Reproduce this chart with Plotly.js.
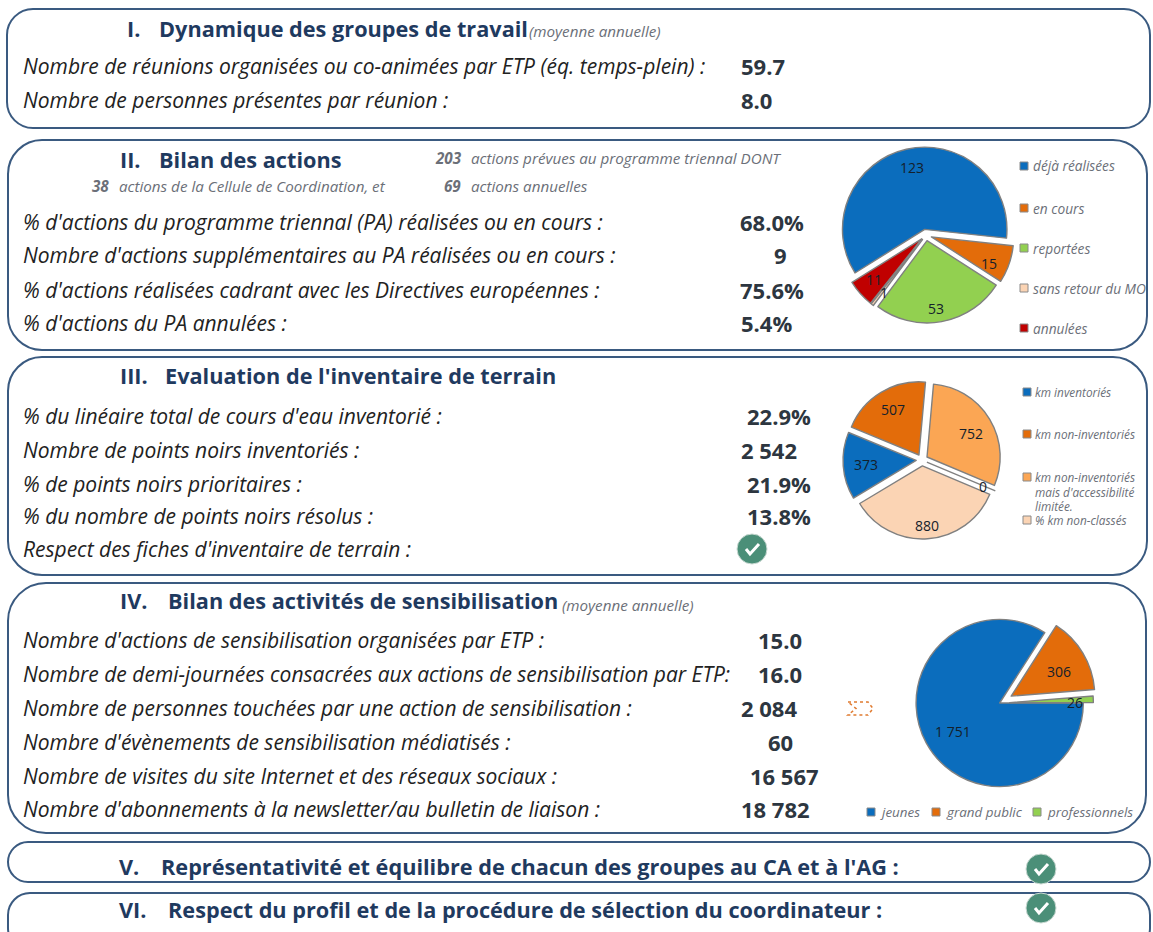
<!DOCTYPE html>
<html><head><meta charset="utf-8">
<script src="https://cdn.plot.ly/plotly-3.0.1.min.js"></script>
<style>html,body{margin:0;padding:0;background:#fff;overflow:hidden}#g{width:1153px;height:932px}</style>
</head><body><div id="g"></div>
<script>
// ---- data ----
const pie1Labels = ["déjà réalisées","en cours","reportées","sans retour du MO","annulées"];
const pie1Values = [123,15,53,1,11];
const pie2Labels = ["km inventoriés","km non-inventoriés","km non-inventoriés mais d'accessibilité limitée.","% km non-classés","km non-classés"];
const pie2Values = [373,507,752,0,880];
const pie3Labels = ["jeunes","grand public","professionnels"];
const pie3Values = [1751,306,26];
const sec1Rows = ["Nombre de réunions organisées ou co-animées par ETP (éq. temps-plein) :","Nombre de personnes présentes par réunion :"];
const sec1Vals = ["59.7","8.0"];
const sec2Rows = ["% d'actions du programme triennal (PA) réalisées ou en cours :","Nombre d'actions supplémentaires au PA réalisées ou en cours :","% d'actions réalisées cadrant avec les Directives européennes :","% d'actions du PA annulées :"];
const sec2Vals = ["68.0%","9","75.6%","5.4%"];
const sec3Rows = ["% du linéaire total de cours d'eau inventorié :","Nombre de points noirs inventoriés :","% de points noirs prioritaires :","% du nombre de points noirs résolus :","Respect des fiches d'inventaire de terrain :"];
const sec3Vals = ["22.9%","2 542","21.9%","13.8%"];
const sec4Rows = ["Nombre d'actions de sensibilisation organisées par ETP :","Nombre de demi-journées consacrées aux actions de sensibilisation par ETP:","Nombre de personnes touchées par une action de sensibilisation :","Nombre d'évènements de sensibilisation médiatisés :","Nombre de visites du site Internet et des réseaux sociaux :","Nombre d'abonnements à la newsletter/au bulletin de liaison :"];
const sec4Vals = ["15.0","16.0","2 084","60","16 567","18 782"];

// ---- layout helpers (pixel -> paper) ----
const W=1153,H=932;
const px=x=>x/W, py=y=>1-y/H;
const FONT="'Open Sans', Lato, sans-serif";
const NAVY="#1f3a5f", INK="#222222", EDGE="#3a5a80", GREY="#6b6f78";
const RS=21, HS=21.7, VS=22, NS=15.2;
const ann=[], shp=[];
function txt(x,y,t,o={}){ann.push({xref:"paper",yref:"paper",x:px(x),y:py(y),text:t,showarrow:false,
  xanchor:o.a||"left",yanchor:"middle",borderpad:0,
  font:{family:FONT,size:o.s||18,color:o.c||INK,weight:o.b?700:400,style:o.i?"italic":"normal"}});}
function box(x0,y0,x1,y1,r){const k=r*0.45,X=px,Y=py;
  const d=`M${X(x0+r)},${Y(y0)} L${X(x1-r)},${Y(y0)} C${X(x1-k)},${Y(y0)} ${X(x1)},${Y(y0+k)} ${X(x1)},${Y(y0+r)} `+
  `L${X(x1)},${Y(y1-r)} C${X(x1)},${Y(y1-k)} ${X(x1-k)},${Y(y1)} ${X(x1-r)},${Y(y1)} `+
  `L${X(x0+r)},${Y(y1)} C${X(x0+k)},${Y(y1)} ${X(x0)},${Y(y1-k)} ${X(x0)},${Y(y1-r)} `+
  `L${X(x0)},${Y(y0+r)} C${X(x0)},${Y(y0+k)} ${X(x0+k)},${Y(y0)} ${X(x0+r)},${Y(y0)} Z`;
  shp.push({type:"path",xref:"paper",yref:"paper",path:d,line:{color:EDGE,width:2},layer:"below"});}
function check(cx,cy){
  shp.push({type:"circle",xref:"paper",yref:"paper",x0:px(cx-15),x1:px(cx+15),y0:py(cy+15),y1:py(cy-15),fillcolor:"#4b8f78",line:{color:"#c9d9d2",width:1}});
  shp.push({type:"path",xref:"paper",yref:"paper",path:`M${px(cx-6)},${py(cy)} L${px(cx-2)},${py(cy+5)} L${px(cx+7)},${py(cy-5)}`,line:{color:"#fff",width:3}});
}
function sq(x,y,c){const s=4;shp.push({type:"rect",xref:"paper",yref:"paper",x0:px(x-s),x1:px(x+s),y0:py(y+s),y1:py(y-s),fillcolor:c,line:{color:"#8a8a8a",width:1}});}
function rows(list,ys,x,s){list.forEach((t,i)=>txt(x,ys[i],t,{i:true,s:s}));}
function vals(list,xs,ys,s){list.forEach((t,i)=>txt(xs[i],ys[i],t,{b:true,a:"center",s:s||VS,c:"#2d3640"}));}

// ---- frames ----
box(7,9,1150,128,26); box(8,140,1147,350,34); box(8,357,1147,575,34); box(8,583,1146,833,38);
box(8,842,1150,882,20); box(8,893,1150,950,22);

// ---- section I ----
txt(126,28,"I.",{b:1,s:HS,c:NAVY}); txt(158,28,"Dynamique des groupes de travail",{b:1,s:HS,c:NAVY});
txt(528,31,"(moyenne annuelle)",{i:1,s:NS,c:GREY});
const y1=[66,100]; rows(sec1Rows,y1,22,RS); vals(sec1Vals,[763,756],y1);
// ---- section II ----
txt(119,159,"II.",{b:1,s:HS,c:NAVY}); txt(158,159,"Bilan des actions",{b:1,s:HS,c:NAVY});
txt(434,158,"203",{b:1,i:1,s:NS,c:GREY}); txt(470,158,"actions prévues au programme triennal DONT",{i:1,s:NS,c:GREY});
txt(91,186,"38",{b:1,i:1,s:NS,c:GREY}); txt(118,186,"actions de la Cellule de Coordination, et",{i:1,s:NS,c:GREY});
txt(443,186,"69",{b:1,i:1,s:NS,c:GREY}); txt(470,186,"actions annuelles",{i:1,s:NS,c:GREY});
const y2=[222,255,290,323]; rows(sec2Rows,y2,22,RS); vals(sec2Vals,[772,780,772,766],y2);
// ---- section III ----
txt(119,375,"III.",{b:1,s:HS,c:NAVY}); txt(164,375,"Evaluation de l'inventaire de terrain",{b:1,s:HS,c:NAVY});
const y3=[416,450,484,516,549]; rows(sec3Rows,y3,22,RS); vals(sec3Vals,[779,769,779,779],y3);
check(752,549);
// ---- section IV ----
txt(119,600,"IV.",{b:1,s:HS,c:NAVY}); txt(167,600,"Bilan des activités de sensibilisation",{b:1,s:HS,c:NAVY});
txt(561,605,"(moyenne annuelle)",{i:1,s:NS,c:GREY});
const y4=[640,674,708,742,776,809]; rows(sec4Rows,y4,22,RS); vals(sec4Vals,[780,780,769,780,784,775],y4);
shp.push({type:"path",xref:"paper",yref:"paper",line:{color:"#e07b30",width:1.5,dash:"dot"},
  path:`M${px(848)},${py(702)} L${px(868)},${py(702)} L${px(873)},${py(708.5)} L${px(868)},${py(715)} L${px(848)},${py(715)} L${px(856)},${py(708.5)} Z`});
// ---- sections V / VI ----
txt(118,866,"V.",{b:1,s:HS,c:NAVY}); txt(160,866,"Représentativité et équilibre de chacun des groupes au CA et à l'AG :",{b:1,s:HS,c:NAVY});
txt(118,909,"VI.",{b:1,s:HS,c:NAVY}); txt(167,909,"Respect du profil et de la procédure de sélection du coordinateur :",{b:1,s:HS,c:NAVY});
check(1041,869); check(1041,908);

// ---- pie value labels ----
const C1=["#0b6dbd","#e36c0a","#92d050","#fbd4b4","#c00000"];
const C2=["#0b6dbd","#e36c0a","#fba654","#ffffff","#fbd4b4"];
const C3=["#0b6dbd","#e36c0a","#92d050"];
const fmt=v=>String(v).replace(/\B(?=(\d{3})+$)/g," ");
const L1=[[912,168],[989,264],[936,308],[884,292],[874,279]];
const L2=[[866,465],[893,409],[971,433],[983,487],[927,525]];
const L3=[[953,731],[1059,671],[1075,702]];
[[pie1Values,L1],[pie2Values,L2],[pie3Values,L3]].forEach(([v,l])=>v.forEach((n,i)=>txt(l[i][0],l[i][1],fmt(n),{a:"center",s:14,c:"#14202b"})));

// ---- pie legends ----
const LY1=[166,208,248,288,328];
pie1Labels.forEach((t,i)=>{sq(1024,LY1[i],C1[i]);txt(1032,LY1[i],t,{i:1,s:13.7,c:GREY});});
const LS2=11.8;
sq(1027,392,C2[0]);txt(1034,392,pie2Labels[0],{i:1,s:LS2,c:GREY});
sq(1027,434,C2[1]);txt(1034,434,pie2Labels[1],{i:1,s:LS2,c:GREY});
sq(1027,477,C2[2]);txt(1034,477,"km non-inventoriés",{i:1,s:LS2,c:GREY});
txt(1034,492,"mais d'accessibilité",{i:1,s:LS2,c:GREY});txt(1034,506,"limitée.",{i:1,s:LS2,c:GREY});
sq(1027,520,C2[4]);txt(1034,520,pie2Labels[3],{i:1,s:LS2,c:GREY});
const LX3=[[871,879],[936,945],[1037,1046]];
pie3Labels.forEach((t,i)=>{sq(LX3[i][0],812,C3[i]);txt(LX3[i][1],812,t,{i:1,s:13.4,c:GREY});});

// ---- pies ----
function dom(cx,cy,R){return {x:[px(cx-R),px(cx+R)],y:[py(cy+R),py(cy-R)]};}
function pie(labels,values,colors,pull,rot,domain){return {type:"pie",labels,values,sort:false,direction:"clockwise",rotation:rot,pull,
  textinfo:"none",hoverinfo:"label+value",showlegend:false,domain,
  marker:{colors,line:{color:"#808080",width:1.4}}};}
const traces=[
 pie(pie1Labels,pie1Values,C1,[0.07,0.07,0.07,0.07,0.07],-122,dom(926,235,88)),
 pie(pie2Labels,pie2Values,C2,[0.08,0.08,0.08,0.08,0.08],-121,dom(922,460,79)),
 pie(pie3Labels,pie3Values,C3,[0,0.16,0.12],90,dom(999.7,703,97))
];
Plotly.newPlot("g",traces,{width:W,height:H,margin:{l:0,r:0,t:0,b:0},paper_bgcolor:"#fff",plot_bgcolor:"#fff",
  showlegend:false,shapes:shp,annotations:ann},{displayModeBar:false,staticPlot:true});
</script></body></html>
